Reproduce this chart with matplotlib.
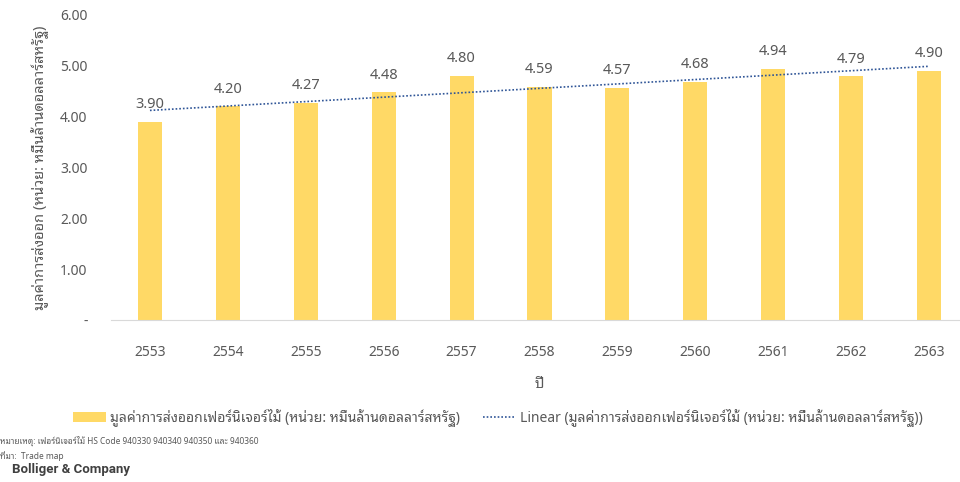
import matplotlib
matplotlib.use("Agg")
import matplotlib.pyplot as plt
import numpy as np
from matplotlib.lines import Line2D
from matplotlib.patches import Patch

plt.rcParams['font.family'] = ['Noto Sans', 'Noto Sans Thai Looped', 'DejaVu Sans']

years = ['2553', '2554', '2555', '2556', '2557', '2558', '2559', '2560', '2561', '2562', '2563']
export_values = [3.90, 4.20, 4.27, 4.48, 4.80, 4.59, 4.57, 4.68, 4.94, 4.79, 4.90]
y_ticks = [0, 1, 2, 3, 4, 5, 6]
y_tick_labels = ['-', '1.00', '2.00', '3.00', '4.00', '5.00', '6.00']

series_name = 'มูลค่าการส่งออกเฟอร์นิเจอร์ไม้ (หน่วย: หมื่นล้านดอลลาร์สหรัฐ)'
grey = '#595959'
bar_color = '#FFD966'
trend_color = '#2F5597'

fig = plt.figure(figsize=(9.6, 4.82), dpi=100)
ax = fig.add_axes([111 / 960, 0.336, 857 / 960, 0.633])

x = np.arange(len(years))
bars = ax.bar(x, export_values, width=0.31, color=bar_color)

# value labels
for xi, v in zip(x, export_values):
    ax.annotate(f'{v:.2f}', (xi, v), xytext=(0, 7), textcoords='offset points',
                ha='center', va='bottom', fontsize=10.5, color=grey)

# linear trendline like Excel
coef = np.polyfit(x, export_values, 1)
ax.plot(x, np.polyval(coef, x), linestyle=(0, (1, 1.2)), color=trend_color, linewidth=1.2)

ax.set_xlim(-0.5, len(years) - 0.5)
ax.set_ylim(0, 6)
ax.set_xticks(x)
ax.set_xticklabels(years)
ax.set_yticks(y_ticks)
ax.set_yticklabels(y_tick_labels)
ax.tick_params(axis='both', length=0, labelsize=10, colors=grey)
ax.tick_params(axis='x', pad=18)
ax.tick_params(axis='y', pad=17)
for s in ['top', 'right', 'left']:
    ax.spines[s].set_visible(False)
ax.spines['bottom'].set_color('#D9D9D9')

ax.set_xlabel('ปี', fontsize=10.5, color=grey, labelpad=12)
ax.set_ylabel('มูลค่าการส่งออก (หน่วย: หมื่นล้านดอลลาร์สหรัฐ)', fontsize=10.5, color=grey, labelpad=8)

handles = [Patch(facecolor=bar_color, edgecolor='none'),
           Line2D([0], [0], linestyle=(0, (1, 1.2)), color=trend_color, linewidth=1.2)]
labels = [series_name, 'Linear (' + series_name + ')']
fig.legend(handles, labels, loc='center', bbox_to_anchor=(498 / 960, 1 - 418 / 482), ncol=2,
           frameon=False, fontsize=10, labelcolor=grey, handlelength=2.4, columnspacing=1.6,
           handletextpad=0.3)

fig.text(0.0, 1 - 441 / 482, 'หมายเหตุ: เฟอร์นิเจอร์ไม้ HS Code 940330 940340 940350 และ 940360',
         fontsize=6, color=grey, va='center', ha='left')
fig.text(0.0, 1 - 456 / 482, 'ที่มา:  Trade map', fontsize=6, color=grey, va='center', ha='left')
fig.text(12 / 960, 1 - 470 / 482, 'Bolliger & Company', fontsize=9.5, color='#404040',
         fontweight='bold', va='center', ha='left', family='Roboto')

fig.savefig('out.png', dpi=100)
